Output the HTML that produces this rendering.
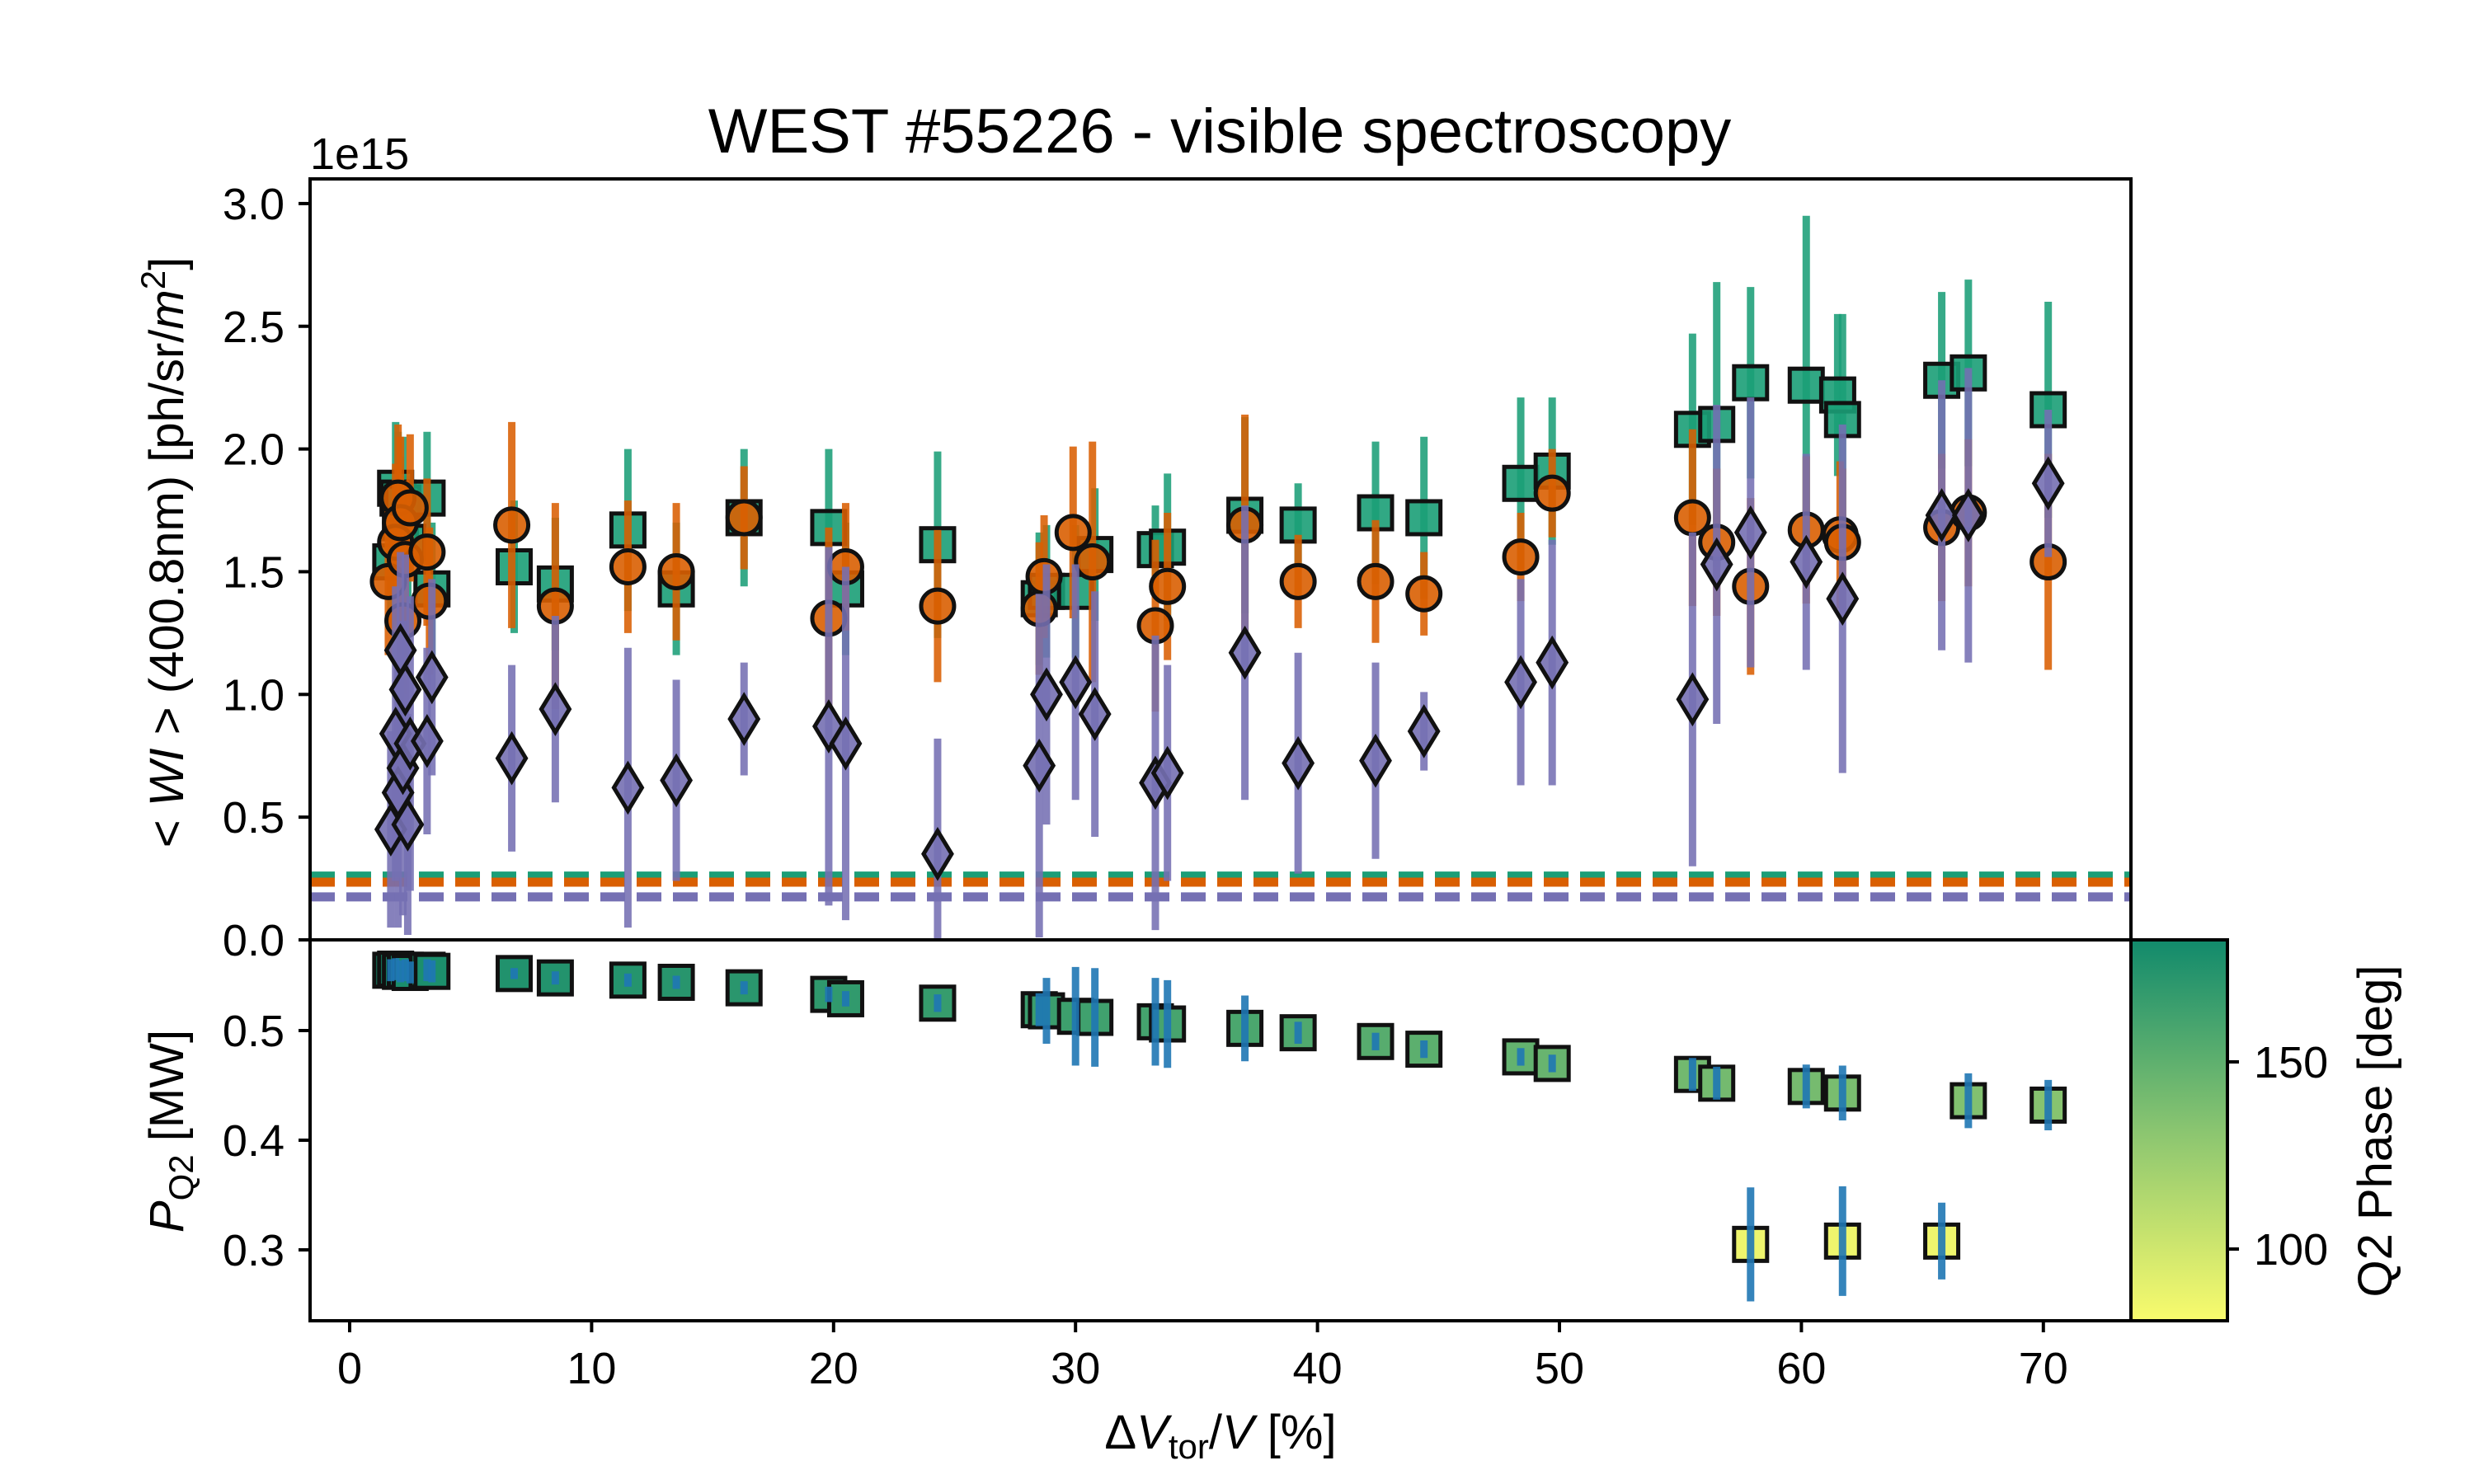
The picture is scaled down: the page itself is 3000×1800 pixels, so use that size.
<!DOCTYPE html>
<html><head><meta charset="utf-8"><style>
html,body{margin:0;padding:0;background:#fff;}
svg{display:block;font-family:"Liberation Sans",sans-serif;}
</style></head><body>
<svg id="fig" width="3000" height="1800" viewBox="0 0 3000 1800" xmlns="http://www.w3.org/2000/svg">
<defs>
<linearGradient id="cmap" x1="0" y1="1" x2="0" y2="0">
<stop offset="0" stop-color="#f9fb6d"/><stop offset="0.5" stop-color="#8ac570"/><stop offset="1" stop-color="#118a6c"/>
</linearGradient>
<clipPath id="clipTop"><rect x="376" y="217" width="2208" height="923"/></clipPath>
<clipPath id="clipBot"><rect x="376" y="1140" width="2208" height="462"/></clipPath>
</defs>
<text x="1479" y="185" font-size="76" text-anchor="middle">WEST #55226 - visible spectroscopy</text>
<text x="376" y="205" font-size="54">1e15</text>
<g id="gtop" clip-path="url(#clipTop)"></g>
<g id="gbot" clip-path="url(#clipBot)"></g>
<g id="gaxes"></g>
<rect x="2584" y="1140" width="117" height="462" fill="url(#cmap)" stroke="#000" stroke-width="4"/>
<text transform="translate(222,670) rotate(-90)" font-size="58" text-anchor="middle">&lt; <tspan font-style="italic">WI</tspan> &gt;  (400.8nm) [ph/sr/<tspan font-style="italic">m</tspan><tspan dy="-22" font-size="42">2</tspan><tspan dy="22">]</tspan></text>
<text transform="translate(222,1372) rotate(-90)" font-size="58" text-anchor="middle"><tspan font-style="italic">P</tspan><tspan dy="12" font-size="42">Q2</tspan><tspan dy="-12"> [MW]</tspan></text>
<text x="1480" y="1757" font-size="58" text-anchor="middle">Δ<tspan font-style="italic">V</tspan><tspan dy="12" font-size="42">tor</tspan><tspan dy="-12">/</tspan><tspan font-style="italic">V</tspan> [%]</text>
<text transform="translate(2900,1372) rotate(-90)" font-size="58" text-anchor="middle">Q2 Phase [deg]</text>
</svg>
<script>
// ---- data ----
const xG=[1.7,1.9,2.0,2.1,2.2,2.4,3.2,3.4,6.8,8.5,11.5,13.5,16.3,19.8,20.5,24.3,28.5,28.8,30.0,30.8,33.3,33.8,37.0,39.2,42.4,44.4,48.4,49.7,55.5,56.5,57.9,60.2,61.5,61.7,65.8,66.9,70.2];
const yG=[1.54,1.84,1.80,1.70,1.78,1.62,1.80,1.43,1.52,1.45,1.67,1.43,1.72,1.68,1.43,1.61,1.39,1.42,1.42,1.57,1.59,1.60,1.73,1.69,1.74,1.72,1.86,1.91,2.08,2.10,2.27,2.26,2.22,2.12,2.28,2.31,2.16];
const eG=[0.27,0.27,0.27,0.27,0.27,0.27,0.27,0.27,0.27,0.27,0.33,0.27,0.28,0.32,0.27,0.38,0.27,0.27,0.27,0.27,0.18,0.30,0.40,0.17,0.29,0.33,0.35,0.30,0.39,0.58,0.39,0.69,0.33,0.43,0.36,0.38,0.44];
const xO=[1.6,1.9,2.0,2.1,2.2,2.3,2.5,3.2,3.3,6.7,8.5,11.5,13.5,16.3,19.8,20.5,24.3,28.5,28.7,29.9,30.7,33.3,33.8,37.0,39.2,42.4,44.4,48.4,49.7,55.5,56.5,57.9,60.2,61.6,61.7,65.8,66.9,70.2];
const yO=[1.46,1.62,1.80,1.70,1.30,1.55,1.76,1.58,1.38,1.69,1.36,1.52,1.50,1.72,1.31,1.52,1.36,1.35,1.48,1.66,1.54,1.28,1.44,1.69,1.46,1.46,1.41,1.56,1.82,1.72,1.62,1.44,1.67,1.65,1.62,1.68,1.74,1.54];
const eO=[0.30,0.32,0.30,0.35,0.30,0.32,0.30,0.30,0.30,0.42,0.42,0.27,0.28,0.21,0.37,0.26,0.31,0.27,0.25,0.35,0.49,0.35,0.30,0.45,0.19,0.25,0.17,0.18,0.18,0.36,0.30,0.36,0.30,0.30,0.30,0.30,0.30,0.44];
const xD=[1.7,1.9,2.0,2.1,2.2,2.3,2.4,2.5,3.2,3.4,6.7,8.5,11.5,13.5,16.3,19.8,20.5,24.3,28.5,28.8,30.0,30.8,33.3,33.8,37.0,39.2,42.4,44.4,48.4,49.7,55.5,56.5,57.9,60.2,61.7,65.8,66.9,70.2];
const yD=[0.45,0.84,0.60,1.18,0.70,1.02,0.47,0.80,0.81,1.07,0.74,0.94,0.62,0.65,0.90,0.87,0.80,0.35,0.71,1.00,1.05,0.92,0.64,0.68,1.17,0.72,0.73,0.85,1.05,1.13,0.98,1.53,1.66,1.54,1.39,1.73,1.73,1.86];
const eD=[0.40,0.60,0.55,0.40,0.60,0.55,0.45,0.60,0.38,0.40,0.38,0.38,0.57,0.41,0.23,0.73,0.72,0.47,0.70,0.53,0.48,0.50,0.60,0.44,0.60,0.45,0.40,0.16,0.42,0.50,0.68,0.65,0.55,0.44,0.71,0.55,0.60,0.30];
const dashG=0.26, dashO=0.235, dashD=0.175;
const xP=[1.7,1.9,2.1,2.3,2.5,3.2,3.4,6.8,8.5,11.5,13.5,16.3,19.8,20.5,24.3,28.5,28.8,30.0,30.8,33.3,33.8,37.0,39.2,42.4,44.4,48.4,49.7,55.5,56.5,57.9,60.2,61.7,61.7,65.8,66.9,70.2];
const pQ2=[0.555,0.556,0.554,0.555,0.553,0.555,0.554,0.552,0.548,0.546,0.544,0.539,0.533,0.529,0.525,0.519,0.518,0.513,0.512,0.508,0.506,0.502,0.498,0.490,0.483,0.476,0.470,0.460,0.452,0.305,0.449,0.443,0.308,0.308,0.436,0.432];
const pErr=[0.010,0.010,0.010,0.010,0.010,0.010,0.010,0.005,0.006,0.006,0.006,0.006,0.007,0.007,0.008,0.015,0.030,0.045,0.045,0.040,0.040,0.030,0.010,0.008,0.008,0.008,0.008,0.015,0.015,0.052,0.020,0.025,0.050,0.035,0.025,0.023];
const phase=[180,180,180,179,179,178,178,176,175,174,173,172,170,169,167,165,165,164,163,161,160,158,156,153,151,148,146,142,141,86,140,139,86,86,135,133];
const yTicksTop=["0.0","0.5","1.0","1.5","2.0","2.5","3.0"];
const yTicksBot=["0.3","0.4","0.5"];
const xTicks=["0","10","20","30","40","50","60","70"];
const cbTicks=["100","150"];
// ---- scales ----
const sx=x=>424+x*29.34;
const syT=v=>1140-v*297.7;
const syB=p=>1250-(p-0.5)*1330;
const scb=d=>1288-(d-150)*4.54;
const NS="http://www.w3.org/2000/svg";
function mk(tag,attrs,parent){const e=document.createElementNS(NS,tag);for(const k in attrs)e.setAttribute(k,attrs[k]);parent.appendChild(e);return e;}
function phaseColor(d){let t=(d-80.8)/(182.6-80.8);t=Math.max(0,Math.min(1,t));
 const a=[249,251,109],m=[138,197,112],b=[17,138,108];let c;
 if(t<0.5){const u=t/0.5;c=a.map((v,i)=>Math.round(v+(m[i]-v)*u));}else{const u=(t-0.5)/0.5;c=m.map((v,i)=>Math.round(v+(b[i]-v)*u));}
 return `rgb(${c[0]},${c[1]},${c[2]})`;}
const gTop=document.getElementById('gtop'),gBot=document.getElementById('gbot'),gAx=document.getElementById('gaxes');
[[dashG,'#1b9e77'],[dashO,'#d95f02'],[dashD,'#7570b3']].forEach(d=>{
 const l=mk('line',{x1:376,x2:2584,y1:syT(d[0]),y2:syT(d[0]),stroke:d[1],'stroke-width':11,'stroke-dasharray':'30 14'},gTop);
 
 
});
function series(xs,ys,es,col,shape,name){
 xs.forEach((x,i)=>{const X=sx(x);
  const b=mk('line',{x1:X,x2:X,y1:syT(ys[i]-es[i]),y2:syT(ys[i]+es[i]),stroke:col,'stroke-width':9,'stroke-opacity':0.88},gTop);
  
  
 });
 xs.forEach((x,i)=>{const X=sx(x),Y=syT(ys[i]);let m;
  if(shape==='s')m=mk('rect',{x:X-20,y:Y-20,width:40,height:40},gTop);
  else if(shape==='o')m=mk('circle',{cx:X,cy:Y,r:20},gTop);
  else m=mk('polygon',{points:`${X},${Y-28} ${X+17},${Y} ${X},${Y+28} ${X-17},${Y}`},gTop);
  m.setAttribute('fill',col);m.setAttribute('fill-opacity',0.9);m.setAttribute('stroke','#111');m.setAttribute('stroke-width',5);
  
  
 });
}
series(xG,yG,eG,'#1b9e77','s','series-green');
series(xO,yO,eO,'#d95f02','o','series-orange');
series(xD,yD,eD,'#7570b3','d','series-purple');
xP.forEach((x,i)=>{const X=sx(x),Y=syB(pQ2[i]);
 const m=mk('rect',{x:X-20,y:Y-20,width:40,height:40,fill:phaseColor(phase[i]),stroke:'#111','stroke-width':5},gBot);
 
 
});
xP.forEach((x,i)=>{const X=sx(x);
 const b=mk('line',{x1:X,x2:X,y1:syB(pQ2[i]-pErr[i]),y2:syB(pQ2[i]+pErr[i]),stroke:'#1f77b4','stroke-width':9,'stroke-opacity':0.9},gBot);
 
 
});
const f1=mk('rect',{x:376,y:217,width:2208,height:923,fill:'none',stroke:'#000','stroke-width':4},gAx);


const f2=mk('rect',{x:376,y:1140,width:2208,height:462,fill:'none',stroke:'#000','stroke-width':4},gAx);


yTicksTop.forEach(t=>{const Y=syT(parseFloat(t));
 mk('line',{x1:362,x2:376,y1:Y,y2:Y,stroke:'#000','stroke-width':4},gAx);
 const tx=mk('text',{x:345,y:Y+19,'font-size':54,'text-anchor':'end'},gAx);tx.textContent=t;
 
 
});
yTicksBot.forEach(t=>{const Y=syB(parseFloat(t));
 mk('line',{x1:362,x2:376,y1:Y,y2:Y,stroke:'#000','stroke-width':4},gAx);
 const tx=mk('text',{x:345,y:Y+19,'font-size':54,'text-anchor':'end'},gAx);tx.textContent=t;
 
 
});
xTicks.forEach(t=>{const X=sx(parseFloat(t));
 mk('line',{x1:X,x2:X,y1:1602,y2:1616,stroke:'#000','stroke-width':4},gAx);
 const tx=mk('text',{x:X,y:1678,'font-size':54,'text-anchor':'middle'},gAx);tx.textContent=t;
 
 
});
cbTicks.forEach(t=>{const Y=scb(parseFloat(t));
 mk('line',{x1:2701,x2:2715,y1:Y,y2:Y,stroke:'#000','stroke-width':4},gAx);
 const tx=mk('text',{x:2733,y:Y+19,'font-size':54},gAx);tx.textContent=t;
 
 
});
</script>
</body></html>
